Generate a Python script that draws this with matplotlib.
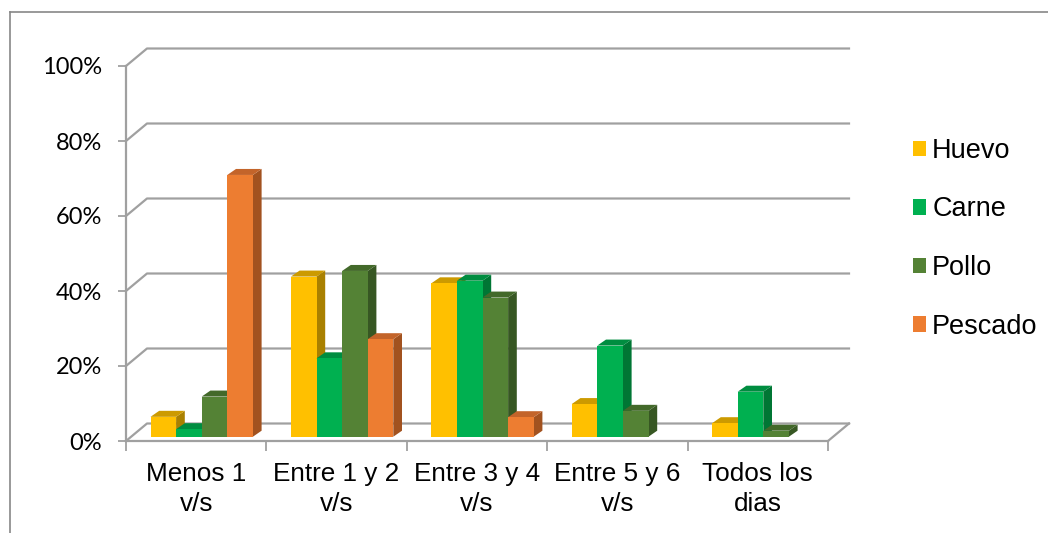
import matplotlib
matplotlib.use("Agg")
import matplotlib.pyplot as plt
from matplotlib.patches import Polygon, Patch
from matplotlib.lines import Line2D

# Frequency of consumption by food type (fraction of respondents)
categories = ["Menos 1\nv/s", "Entre 1 y 2\nv/s", "Entre 3 y 4\nv/s",
              "Entre 5 y 6\nv/s", "Todos los\ndias"]
series_names = ["Huevo", "Carne", "Pollo", "Pescado"]
huevo = [5.3, 42.7, 40.9, 8.7, 3.6]
carne = [2.0, 20.9, 41.6, 24.3, 12.0]
pollo = [10.7, 44.2, 37.1, 6.9, 1.6]
pescado = [69.8, 26.0, 5.2, 0.0, 0.0]
y_ticks = [0, 20, 40, 60, 80, 100]

series_values = [huevo, carne, pollo, pescado]
front_colors = ["#FFC000", "#00B050", "#548235", "#ED7D31"]
top_colors = ["#CC9A00", "#008D40", "#43692A", "#C3642A"]
side_colors = ["#A98000", "#007634", "#375723", "#A2521F"]

W, H, DPI = 1048, 533, 100
fig = plt.figure(figsize=(W / DPI, H / DPI), dpi=DPI)

# front plane of the plot area in pixels
x0_px, x1_px = 126, 828
y0_px, y1_px = 441, 66
ax = fig.add_axes([x0_px / W, (H - y0_px) / H,
                   (x1_px - x0_px) / W, (y0_px - y1_px) / H])
ncat = len(categories)
ax.set_xlim(0, ncat)
ax.set_ylim(0, 100)

px_x = (x1_px - x0_px) / ncat      # pixels per category
px_y = (y0_px - y1_px) / 100.0     # pixels per percent

def dxy(px, py):
    return px / px_x, py / px_y

# wall depth and bar placement in depth
wdx, wdy = dxy(21, 17.5)
fdx, fdy = dxy(5.5, 4.3)
bdx, bdy = dxy(8.7, 6.0)

grid_c = "#A0A0A0"
lw_grid = 1.6

# back wall gridlines with the diagonal on the side wall
for v in y_ticks:
    ax.add_line(Line2D([0, wdx, ncat + wdx], [v, v + wdy, v + wdy],
                       color=grid_c, lw=lw_grid, clip_on=False, zorder=1))
# floor right edge
ax.add_line(Line2D([ncat, ncat + wdx], [0, wdy], color=grid_c, lw=lw_grid,
                   clip_on=False, zorder=1))

# bars
nser = len(series_values)
bar_w = 25.6 / px_x
group_w = nser * bar_w
for ci in range(ncat):
    start = ci + (1 - group_w) / 2
    for si in range(nser):
        v = series_values[si][ci]
        if v <= 0:
            continue
        xl = start + si * bar_w + fdx
        xr = xl + bar_w
        yb = fdy
        yt = v + fdy
        z = 3 + ci * 0.1 + si * 0.01
        side = Polygon([(xr, yb), (xr + bdx, yb + bdy), (xr + bdx, yt + bdy), (xr, yt)],
                       closed=True, fc=side_colors[si], ec="none", clip_on=False, zorder=z)
        top = Polygon([(xl, yt), (xr, yt), (xr + bdx, yt + bdy), (xl + bdx, yt + bdy)],
                      closed=True, fc=top_colors[si], ec="none", clip_on=False, zorder=z)
        front = Polygon([(xl, yb), (xr, yb), (xr, yt), (xl, yt)],
                        closed=True, fc=front_colors[si], ec="none", clip_on=False, zorder=z)
        for p in (side, top, front):
            ax.add_patch(p)

# axes styling
ax.patch.set_visible(False)
for s in ("top", "right"):
    ax.spines[s].set_visible(False)
for s in ("left", "bottom"):
    ax.spines[s].set_color(grid_c)
    ax.spines[s].set_linewidth(lw_grid)
    ax.spines[s].set_zorder(2)

ax.set_yticks(y_ticks)
ax.set_yticklabels([f"{v}%" for v in y_ticks], family=["Lato", "DejaVu Sans"],
                   fontsize=17)
ax.tick_params(axis="y", length=6, width=1.3, color=grid_c, pad=11.5)

ax.set_xticks(range(ncat + 1))
ax.set_xticklabels([])
ax.tick_params(axis="x", which="major", length=7, width=1.3, color=grid_c,
               direction="out")
ax.set_xticks([i + 0.5 for i in range(ncat)], minor=True)
ax.set_xticklabels(categories, minor=True, family=["Liberation Sans"],
                   fontsize=18.8, linespacing=1.3)
ax.tick_params(axis="x", which="minor", length=0, pad=15)

# legend
handles = [Patch(fc=c, ec="none") for c in front_colors]
leg = fig.legend(handles, series_names, loc="upper left",
                 bbox_to_anchor=(913 / W, 1 - 138 / H),
                 frameon=False, prop={"family": "Liberation Sans", "size": 19.5},
                 handlelength=0.49, handleheight=0.49, handletextpad=0.22,
                 labelspacing=1.2, borderpad=0, borderaxespad=0)

# chart frame
frame_c = "#878787"
fig.add_artist(Line2D([9.5 / W, 9.5 / W], [0, 1 - 11.5 / H], color=frame_c, lw=1.2,
                      transform=fig.transFigure))
fig.add_artist(Line2D([9.5 / W, 1], [1 - 11.5 / H, 1 - 11.5 / H], color=frame_c, lw=1.2,
                      transform=fig.transFigure))

fig.savefig("out.png", dpi=DPI)
